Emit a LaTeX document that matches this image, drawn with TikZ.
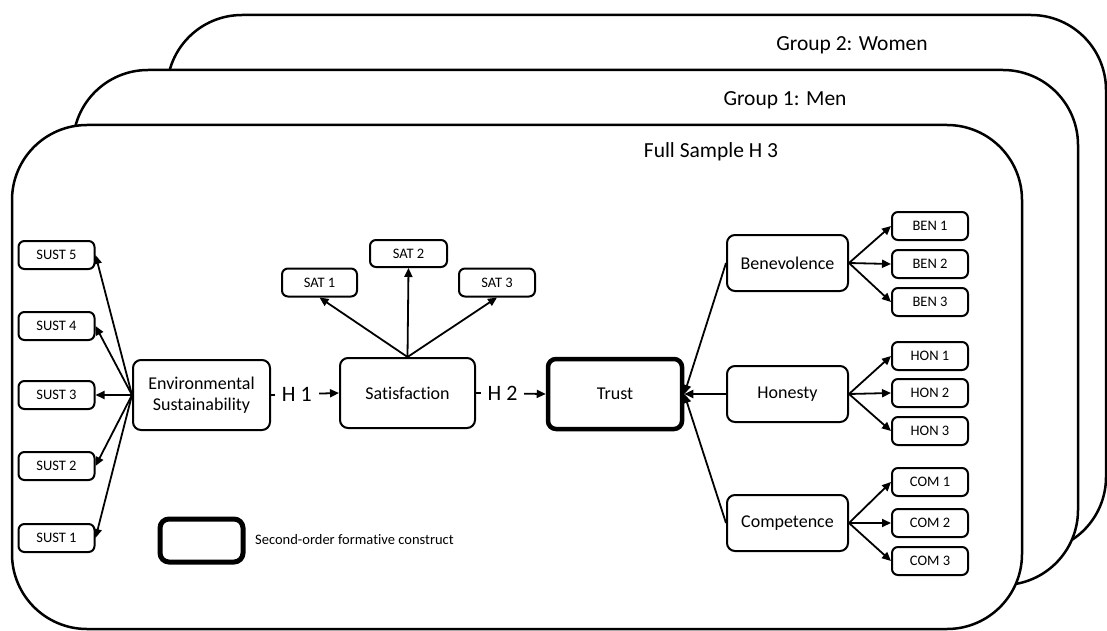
\documentclass[tikz,border=0pt]{standalone}
\usepackage{fontspec}
\setmainfont{Carlito}[Ligatures=NoCommon]
\usetikzlibrary{arrows.meta}
\begin{document}
\begin{tikzpicture}[x=1pt,y=-1pt,
  frame/.style={draw=black,line width=2.5pt,fill=white,rounded corners=75pt},
  box/.style={draw=black,line width=2pt,rounded corners=8pt,inner sep=0pt,align=center},
  big/.style={box,font=\fontsize{18}{21}\selectfont},
  ind/.style={box,minimum width=76pt,minimum height=28pt,rounded corners=6pt,font=\fontsize{14.5}{16}\selectfont},
  title/.style={font=\fontsize{21.5}{24}\selectfont},
  hlab/.style={fill=white,inner xsep=7pt,inner ysep=2pt,font=\fontsize{22}{24}\selectfont},
  arr/.style={line width=1.8pt,-{Triangle[length=9pt,width=8pt]}},
  lin/.style={line width=1.8pt}
]
\useasboundingbox (0,0) rectangle (1107,631);
% frames
\draw[frame] (167,15) rectangle (1106,552);
\draw[frame] (73,70) rectangle (1078,585);
\draw[frame] (12,125) rectangle (1022,629);
\node[title] (t3) at (852,45) {Group 2: Women};
\node[title] (t2) at (785,100) {Group 1: Men};
\node[title] (t1) at (711,152) {Full Sample H 3};
% left
\node[ind] (s5) at (56.5,255) {SUST 5};
\node[ind] (s4) at (56.5,326) {SUST 4};
\node[ind] (s3) at (56.5,395) {SUST 3};
\node[ind] (s2) at (56.5,466) {SUST 2};
\node[ind] (s1) at (56.5,538) {SUST 1};
\node[big,minimum width=137pt,minimum height=70pt] (env) at (201.5,395) {Environmental\\Sustainability};
\node[big,minimum width=135pt,minimum height=70pt] (sat) at (407.5,393) {Satisfaction};
\node[big,line width=4.5pt,minimum width=134pt,minimum height=70pt] (trust) at (615,394) {Trust};
\node[ind,minimum width=75pt] (sa1) at (319.5,282.5) {SAT 1};
\node[ind,minimum width=77pt,minimum height=27pt] (sa2) at (408.5,253.5) {SAT 2};
\node[ind] (sa3) at (497,282.5) {SAT 3};
\node[big,minimum width=121pt,minimum height=56pt] (ben) at (787.5,263) {Benevolence};
\node[big,minimum width=121pt,minimum height=56pt] (hon) at (787.5,394) {Honesty};
\node[big,minimum width=121pt,minimum height=56pt] (com) at (787.5,523) {Competence};
\node[ind] (b1) at (930,226) {BEN 1};
\node[ind] (b2) at (930,264) {BEN 2};
\node[ind] (b3) at (930,302) {BEN 3};
\node[ind] (h1) at (930,356) {HON 1};
\node[ind] (h2) at (930,393) {HON 2};
\node[ind] (h3) at (930,431) {HON 3};
\node[ind] (c1) at (930,482) {COM 1};
\node[ind] (c2) at (930,523) {COM 2};
\node[ind] (c3) at (930,561) {COM 3};
% legend
\node[box,line width=5pt,minimum width=83pt,minimum height=43pt,rounded corners=9pt] (leg) at (201.5,540.5) {};
\node[anchor=west,inner sep=0pt,font=\fontsize{14.5}{16}\selectfont] (legt) at (255,540) {Second-order formative construct};
% connectors
\foreach \s in {s1,s2,s3,s4,s5} \draw[arr] (env.west) -- (\s.east);
\foreach \s in {sa1,sa2,sa3} \draw[arr] (sat.north) -- (\s.south);
\draw[arr] (env.east) -- node[hlab,pos=0.38] (hl1) {H 1} (sat.west);
\draw[arr] (sat.east) -- node[hlab,pos=0.38] (hl2) {H 2} (trust.west);
\foreach \s in {ben,hon,com} \draw[arr] (\s.west) -- (trust.east);
\foreach \s in {b1,b2,b3} \draw[arr] (ben.east) -- (\s.west);
\foreach \s in {h1,h2,h3} \draw[arr] (hon.east) -- (\s.west);
\foreach \s in {c1,c2,c3} \draw[arr] (com.east) -- (\s.west);
\end{tikzpicture}
\end{document}
